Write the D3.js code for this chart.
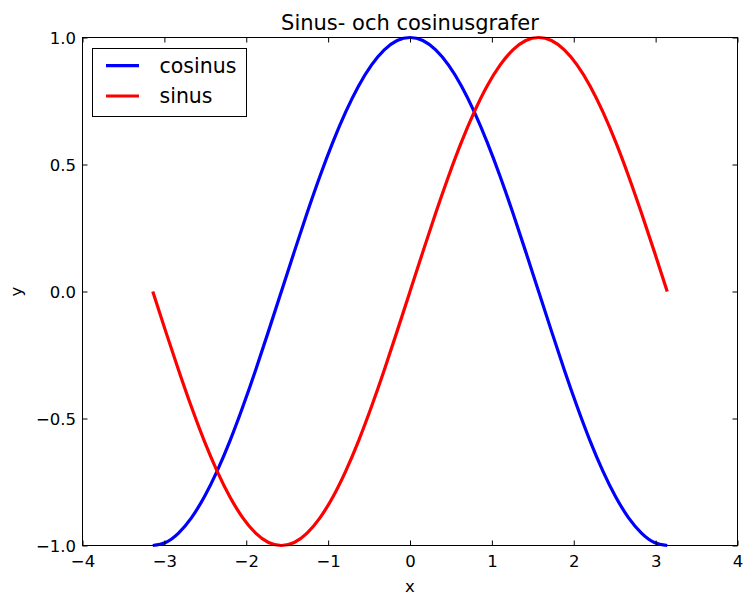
<!DOCTYPE html>
<html><head><meta charset="utf-8">
<script src="https://cdnjs.cloudflare.com/ajax/libs/d3/7.8.5/d3.min.js"></script>
<style>
html,body{margin:0;padding:0;background:#fff;}
svg{display:block;font-family:"DejaVu Sans",sans-serif;}
</style></head>
<body><svg id="chart" width="744" height="595"></svg>
<script>
const xValues = [-3.142,-2.985,-2.827,-2.670,-2.513,-2.356,-2.199,-2.042,-1.885,-1.728,-1.571,-1.414,-1.257,-1.100,-0.942,-0.785,-0.628,-0.471,-0.314,-0.157,0,
  0.157,0.314,0.471,0.628,0.785,0.942,1.100,1.257,1.414,1.571,1.728,1.885,2.042,2.199,2.356,2.513,2.670,2.827,2.985,3.142];
const cosValues = [-1,-0.988,-0.951,-0.891,-0.809,-0.707,-0.588,-0.454,-0.309,-0.156,0,0.156,0.309,0.454,0.588,0.707,0.809,0.891,0.951,0.988,1,
  0.988,0.951,0.891,0.809,0.707,0.588,0.454,0.309,0.156,0,-0.156,-0.309,-0.454,-0.588,-0.707,-0.809,-0.891,-0.951,-0.988,-1];
const sinValues = [0,-0.156,-0.309,-0.454,-0.588,-0.707,-0.809,-0.891,-0.951,-0.988,-1,-0.988,-0.951,-0.891,-0.809,-0.707,-0.588,-0.454,-0.309,-0.156,0,
  0.156,0.309,0.454,0.588,0.707,0.809,0.891,0.951,0.988,1,0.988,0.951,0.891,0.809,0.707,0.588,0.454,0.309,0.156,0];
const seriesNames = ["cosinus","sinus"];
const seriesColors = ["#0000ff","#ff0000"];
const xTicks = [-4,-3,-2,-1,0,1,2,3,4];
const yTicks = [-1.0,-0.5,0.0,0.5,1.0];
const title = "Sinus- och cosinusgrafer";
const xLabel = "x", yLabel = "y";

const svg = d3.select("#chart");
const L = 82.5, R = 737.5, T = 37.5, B = 545.5;
const x = d3.scaleLinear().domain([-4,4]).range([L,R]);
const y = d3.scaleLinear().domain([-1,1]).range([B,T]);
const minus = s => s.replace("-", "\u2212");

// curves
const line = d3.line().x(d=>x(d[0])).y(d=>y(d[1])).curve(d3.curveNatural);
[cosValues, sinValues].forEach((vals,i)=>{
  svg.append("path").datum(xValues.map((xv,j)=>[xv,vals[j]]))
    .attr("d", line).attr("fill","none").attr("stroke",seriesColors[i])
    .attr("stroke-width",3.2).attr("stroke-linejoin","round");
});

// frame
svg.append("rect").attr("x",L).attr("y",T).attr("width",R-L).attr("height",B-T)
  .attr("fill","none").attr("stroke","#000").attr("stroke-width",1);

// axes (ticks inward, on all four sides)
const fs = 16.5;
const xb = svg.append("g").attr("transform",`translate(0,${B})`)
  .call(d3.axisBottom(x).tickValues(xTicks).tickSizeInner(-5).tickSizeOuter(0).tickPadding(0).tickFormat(d=>minus(d3.format("d")(d))));
const xt = svg.append("g").attr("transform",`translate(0,${T})`)
  .call(d3.axisTop(x).tickValues(xTicks).tickSizeInner(-5).tickSizeOuter(0).tickFormat(""));
const yl = svg.append("g").attr("transform",`translate(${L},0)`)
  .call(d3.axisLeft(y).tickValues(yTicks).tickSizeInner(-5).tickSizeOuter(0).tickFormat(d=>minus(d3.format(".1f")(d))));
const yr = svg.append("g").attr("transform",`translate(${R},0)`)
  .call(d3.axisRight(y).tickValues(yTicks).tickSizeInner(-5).tickSizeOuter(0).tickFormat(""));
[xb,xt,yl,yr].forEach(g=>{
  g.select(".domain").remove();
  g.selectAll("line").attr("stroke","#000").attr("stroke-width",1);
  g.selectAll("text").attr("fill","#000").attr("font-size",fs).attr("font-family","DejaVu Sans");
});
xb.selectAll("text").attr("y",21).attr("dy",null).attr("dominant-baseline","alphabetic");
yl.selectAll("text").attr("x",-6.5).attr("dy",null).attr("y",6).attr("dominant-baseline","alphabetic");

// titles
svg.append("text").attr("x",(L+R)/2).attr("y",30).attr("text-anchor","middle")
  .attr("font-size",21).attr("fill","#000").text(title);
svg.append("text").attr("x",(L+R)/2).attr("y",592).attr("text-anchor","middle")
  .attr("font-size",fs).attr("fill","#000").text(xLabel);
svg.append("text").attr("transform",`translate(22,${(T+B)/2}) rotate(-90)`).attr("text-anchor","middle")
  .attr("font-size",fs).attr("fill","#000").text(yLabel);

// legend
const lg = svg.append("g");
lg.append("rect").attr("x",92.5).attr("y",48.5).attr("width",154).attr("height",68)
  .attr("fill","#fff").attr("stroke","#000").attr("stroke-width",1);
seriesNames.forEach((n,i)=>{
  const yy = 65.7 + i*30.3;
  lg.append("line").attr("x1",106).attr("x2",139).attr("y1",yy).attr("y2",yy)
    .attr("stroke",seriesColors[i]).attr("stroke-width",3.2);
  lg.append("text").attr("x",159.5).attr("y",yy+6.8).attr("font-size",20.5).attr("fill","#000").text(n);
});
</script></body></html>
